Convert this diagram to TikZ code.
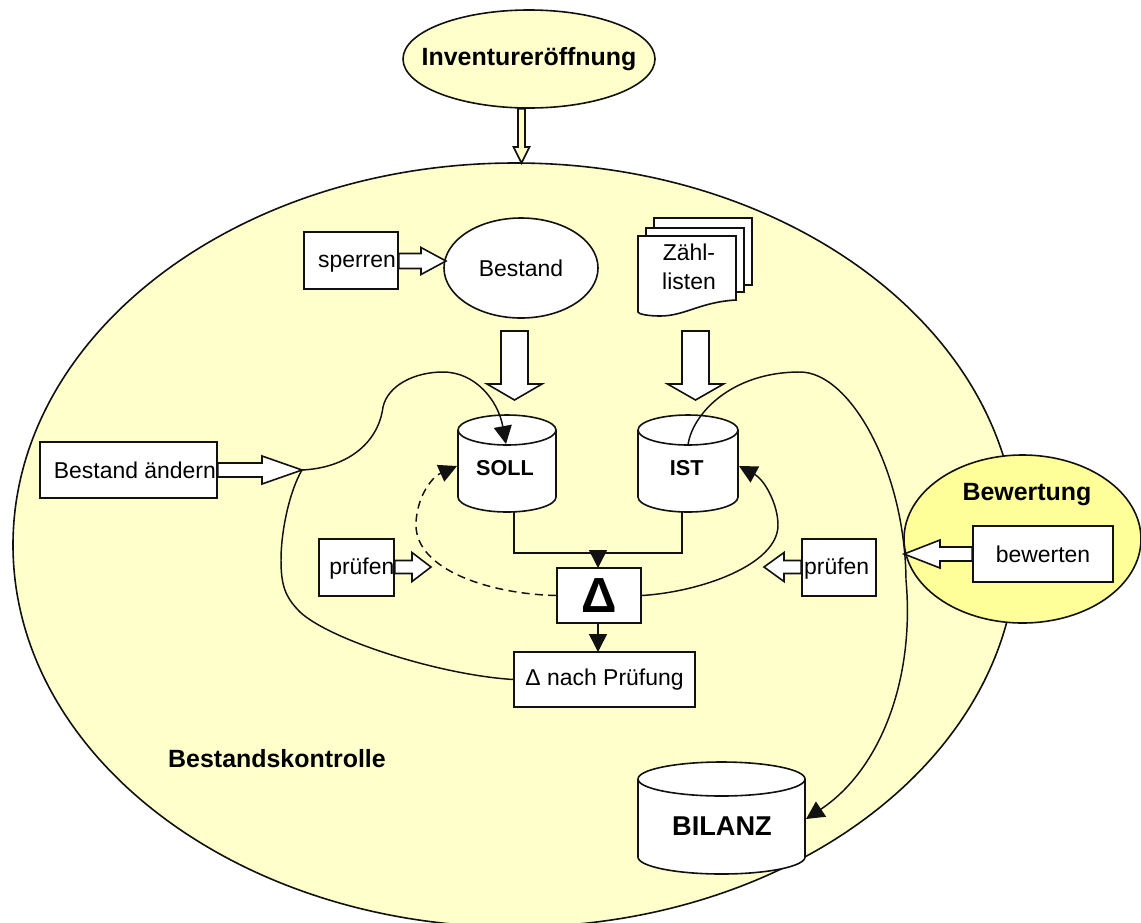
\documentclass[tikz,border=0pt]{standalone}
\usepackage{fontspec}
\setmainfont{Liberation Sans}
\usetikzlibrary{arrows.meta,calc,shapes.geometric}
\definecolor{paleyellow}{HTML}{FFFFCC}
\definecolor{strongyellow}{HTML}{FFFF99}
\definecolor{inkline}{HTML}{111111}
\newcommand\blockH[5]{% from, tip, half shaft, half head, signed head length
  \draw[blockarrow] let \p1=(#1),\p2=(#2) in
    (\x1,\y2+#3*.75pt) -- (\x2-#5*.75pt,\y2+#3*.75pt) -- (\x2-#5*.75pt,\y2+#4*.75pt) -- (\x2,\y2)
    -- (\x2-#5*.75pt,\y2-#4*.75pt) -- (\x2-#5*.75pt,\y2-#3*.75pt) -- (\x1,\y2-#3*.75pt) -- cycle;}
\newcommand\blockV[6][white]{% from, tip, half shaft, half head, head length (pointing down)
  \draw[blockarrow,fill=#1] let \p1=(#2),\p2=(#3) in
    (\x2+#4*.75pt,\y1) -- (\x2+#4*.75pt,\y2+#6*.75pt) -- (\x2+#5*.75pt,\y2+#6*.75pt) -- (\x2,\y2)
    -- (\x2-#5*.75pt,\y2+#6*.75pt) -- (\x2-#4*.75pt,\y2+#6*.75pt) -- (\x2-#4*.75pt,\y1) -- cycle;}
\newcommand\drum[5]{% cx, upper centre y, lower centre y, rx, ry
  \draw[shapeline,fill=white] (#1-#4,#2)
    .. controls (#1-#4,#2-.55*#5) and (#1-.55*#4,#2-#5) .. (#1,#2-#5)
    .. controls (#1+.55*#4,#2-#5) and (#1+#4,#2-.55*#5) .. (#1+#4,#2)
    -- (#1+#4,#3)
    .. controls (#1+#4,#3+.55*#5) and (#1+.55*#4,#3+#5) .. (#1,#3+#5)
    .. controls (#1-.55*#4,#3+#5) and (#1-#4,#3+.55*#5) .. (#1-#4,#3) -- cycle;
  \draw[shapeline] (#1-#4,#2)
    .. controls (#1-#4,#2+.55*#5) and (#1-.55*#4,#2+#5) .. (#1,#2+#5)
    .. controls (#1+.55*#4,#2+#5) and (#1+#4,#2+.55*#5) .. (#1+#4,#2);}
\newcommand\shifted[2]{\makebox[0pt]{\kern#1pt #2}}
\newcommand\dropped[3]{\smash{\raisebox{-#2pt}{\makebox[0pt]{\kern#1pt #3}}}}
\begin{document}
\begin{tikzpicture}[x=0.75pt,y=-0.75pt,
  shapeline/.style={draw=inkline,line width=1.2pt},
  blockarrow/.style={shapeline,fill=white,line join=miter},
  plain/.style={font=\fontsize{17.2}{21}\selectfont,inner sep=0pt},
  strong/.style={font=\bfseries\fontsize{18.7}{22}\selectfont,inner sep=0pt},
  boxnode/.style={plain,shapeline,fill=white,rectangle,minimum width=#1*0.75pt},
  oval/.style={ellipse,shapeline,inner sep=0pt},
  link/.style={draw=inkline,line width=1.1pt},
  tip/.style={-{Triangle[length=13.5pt,width=13.5pt]}},
  drumtext/.style={inner sep=0pt,font=\bfseries\fontsize{16.2}{20}\selectfont}]
\useasboundingbox (0,0) rectangle (1141,922);

% large regions
\node[oval,fill=paleyellow,minimum width=1004*0.75pt,minimum height=764*0.75pt] (kontrolle) at (515,545) {};
\node[oval,fill=strongyellow,minimum width=237*0.75pt,minimum height=168*0.75pt] (bewertung) at (1022.5,539) {};
\node[oval,fill=paleyellow,strong,minimum width=252*0.75pt,minimum height=98*0.75pt] (inventur) at (529,59) {\shifted{0}{Inventureröffnung}};

\node[strong] (bewlabel) at (1027,495) {Bewertung};
\node[strong] (kontrlabel) at (277,759) {Bestandskontrolle};

% boxes
\node[boxnode=94,minimum height=57*0.75pt] (sperren) at (351,260.5) {\dropped{9}{5.6}{sperren}};
\node[oval,plain,fill=white,minimum width=154*0.75pt,minimum height=100*0.75pt] (bestand) at (521,268) {Bestand};

% Zähllisten pages
\draw[shapeline,fill=white] (654,218) rectangle (752,285);
\draw[shapeline,fill=white] (646,228) rectangle (744,292);
\draw[shapeline,fill=white] (638,236) -- (736,236) -- (736,300)
  .. controls (700,302) and (685,316) .. (660,316)
  .. controls (648,316) and (638,314) .. (638,312) -- cycle;
\node[plain,align=center,font=\fontsize{17.2}{21.7}\selectfont] (zaehl) at (689,267) {Zähl-\\listen};

% drums
\drum{507}{430}{497}{49}{15}
\node[drumtext,minimum width=98*0.75pt] (soll) at (507,468) {\shifted{-3}{SOLL}};
\drum{688}{430}{497}{50}{15}
\node[drumtext,minimum width=100*0.75pt] (ist) at (688,468) {\shifted{-2}{IST}};
\drum{721.5}{779}{857}{83.5}{17}
\node[drumtext,font=\bfseries\fontsize{20.4}{24}\selectfont] (bilanz) at (722,826) {BILANZ};

\node[boxnode=177,minimum height=56*0.75pt] (aendern) at (128.5,470) {\shifted{9.5}{Bestand ändern}};
\node[boxnode=75,minimum height=57*0.75pt] (pruefL) at (356.5,567.5) {\dropped{8}{5.6}{prüfen}};
\node[boxnode=74,minimum height=57*0.75pt] (pruefR) at (839,567.5) {\dropped{-3.5}{5.6}{prüfen}};
\node[boxnode=84,minimum height=55*0.75pt,font=\bfseries\fontsize{37}{40}\selectfont] (delta) at (599,595.5) {Δ};
\node[boxnode=181,minimum height=55*0.75pt] (nach) at (604.5,679.5) {Δ nach Prüfung};
\node[boxnode=140,minimum height=56*0.75pt] (bewerten) at (1043,554) {bewerten};

% free ends
\coordinate (tipInv) at (521.5,163);
\coordinate (tipSperren) at (446,261);
\coordinate (tipAendern) at (302,470);
\coordinate (tipPruefL) at (431,567);
\coordinate (tipPruefR) at (764,567);
\coordinate (tipBew) at (904,554);
\coordinate (startS) at (514.5,331);
\coordinate (tipS) at (514.5,400);
\coordinate (startI) at (695.5,331);
\coordinate (tipI) at (695.5,400);
\coordinate (inSoll) at (506,444);
\coordinate (fromIst) at (688,445);
\coordinate (inBilanz) at (806,819);
\coordinate (sollL) at (457,466);
\coordinate (istR) at (739,466);
\coordinate (sollB) at (514,512);
\coordinate (istB) at (682,512);
\coordinate (deltaTop) at (598,568);
\coordinate (deltaBot) at (598,623);
\coordinate (nachTop) at (598,652);
\coordinate (joinMid) at (598,553);

% block arrows
\blockV[paleyellow]{inventur.south}{tipInv}{3.5}{8}{16}
\blockH{sperren.east}{tipSperren}{7.5}{13.5}{25}
\blockH{aendern.east}{tipAendern}{7}{14}{40}
\blockH{pruefL.east}{tipPruefL}{6.5}{14.5}{19}
\blockH{pruefR.west}{tipPruefR}{6.5}{14.5}{-20}
\blockH{bewerten.west}{tipBew}{7}{14}{-36}
\blockV{startS}{tipS}{13.5}{27.5}{16}
\blockV{startI}{tipI}{13.5}{28}{16}

% connectors
\draw[link,tip] (tipAendern) .. controls (345,468) and (378,445) .. (383,407)
  .. controls (388,385) and (415,372) .. (443,372)
  .. controls (475,372) and (498,400) .. (inSoll);
\draw[link] (nach.west) .. controls (440,675) and (330,640) .. (300,612)
  .. controls (285,597) and (281,585) .. (281,560)
  .. controls (281,530) and (290,490) .. (tipAendern);
\draw[link,tip] (fromIst) .. controls (692,415) and (730,372) .. (800,372)
  .. controls (850,372) and (905,470) .. (906,580)
  .. controls (915,680) and (880,770) .. (inBilanz);
\draw[link,tip] (delta.east) .. controls (700,592) and (778,565) .. (778,525)
  .. controls (778,505) and (765,480) .. (istR);
\draw[link,dashed,dash pattern=on 6pt off 4pt,-{Triangle[length=13.5pt,width=13.5pt]}] (delta.west) .. controls (490,594) and (416,570) .. (416,525)
  .. controls (416,500) and (430,478) .. (sollL);
\draw[link] (sollB) |- (joinMid) -| (istB);
\draw[link,tip] (joinMid) -- (deltaTop);
\draw[link,tip] (deltaBot) -- (nachTop);
\end{tikzpicture}
\end{document}
